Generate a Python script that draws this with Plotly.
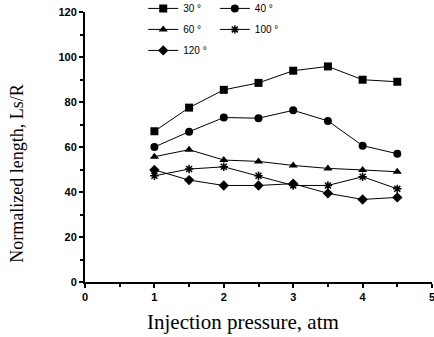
import plotly.graph_objects as go

pressure = [1, 1.5, 2, 2.5, 3, 3.5, 4, 4.5]
s30 = [67, 77.5, 85.4, 88.5, 93.9, 95.8, 89.9, 89.0]
s40 = [60.0, 66.8, 73.1, 72.8, 76.3, 71.6, 60.6, 57.0]
s60 = [55.7, 58.8, 54.2, 53.6, 51.8, 50.5, 49.8, 49.0]
s100 = [47.2, 50.2, 51.2, 47.2, 42.9, 42.9, 46.8, 41.4]
s120 = [49.8, 45.3, 42.9, 42.9, 43.7, 39.4, 36.7, 37.6]
names = ["30 °", "40 °", "60 °", "100 °", "120 °"]
series = [s30, s40, s60, s100, s120]
symbols = ["square", "circle", "triangle-up", "asterisk-open", "diamond"]
legends = ["legend", "legend2", "legend", "legend2", "legend"]

fig = go.Figure()
for nm, ys, sym, lg in zip(names, series, symbols, legends):
    fig.add_trace(go.Scatter(
        x=pressure, y=ys, name=nm, mode="lines+markers", legendgroup=nm,
        line=dict(color="black", width=1),
        marker=dict(symbol=sym, size=8 if sym != "asterisk-open" else 7,
                    color="black", line=dict(color="black", width=1.5 if sym == "asterisk-open" else 0)),
        legend=lg,
    ))

tickfont = dict(family="Liberation Sans", size=11, color="black", weight="bold")
leg_common = dict(font=dict(family="Liberation Sans", size=10, color="black"),
                  bgcolor="rgba(0,0,0,0)", yanchor="top", xanchor="left",
                  yref="paper", xref="container",
                  tracegroupgap=2, itemwidth=30)
fig.update_layout(
    width=434, height=337,
    margin=dict(l=85, r=2, t=12, b=55, autoexpand=False),
    paper_bgcolor="white", plot_bgcolor="white",
    showlegend=True,
    legend=dict(x=0.33, y=1.067, **leg_common),
    legend2=dict(x=0.495, y=1.067, **leg_common),
    xaxis=dict(
        range=[0, 5], tickvals=[0, 1, 2, 3, 4, 5], showgrid=False, zeroline=False,
        showline=True, linecolor="black", linewidth=2, ticklabeloverflow="allow",
        ticks="outside", ticklen=4, tickwidth=1.5, tickcolor="black",
        minor=dict(tickvals=[0.5, 1.5, 2.5, 3.5, 4.5], ticks="outside", ticklen=3, tickcolor="black"),
        tickfont=tickfont,
    ),
    yaxis=dict(
        range=[0, 120], tickvals=[0, 20, 40, 60, 80, 100, 120], showgrid=False, zeroline=False,
        showline=True, linecolor="black", linewidth=2, ticklabeloverflow="allow",
        ticks="outside", ticklen=4, tickwidth=1.5, tickcolor="black",
        minor=dict(tickvals=[10, 30, 50, 70, 90, 110], ticks="outside", ticklen=3, tickcolor="black"),
        tickfont=tickfont,
    ),
    annotations=[
        dict(text="Injection pressure, atm", xref="paper", yref="paper",
             x=0.455, y=-0.148, xanchor="center", yanchor="middle",
             showarrow=False, font=dict(family="Liberation Serif", size=21, color="black")),
        dict(text="Normalized length, Ls/R", xref="paper", yref="paper",
             x=-0.197, y=0.40, xanchor="center", yanchor="middle", textangle=-90,
             showarrow=False, font=dict(family="Liberation Serif", size=18, color="black")),
    ],
)
fig.write_html("out.html", config={"displayModeBar": False},
               post_script="document.body.style.margin='0';")
